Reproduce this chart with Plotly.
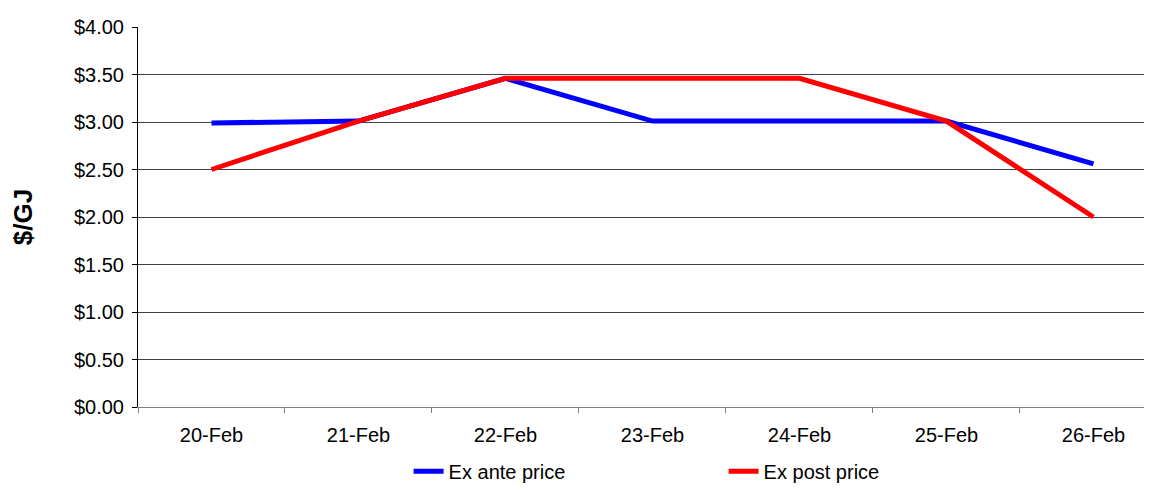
import plotly.graph_objects as go

dates = ["20-Feb", "21-Feb", "22-Feb", "23-Feb", "24-Feb", "25-Feb", "26-Feb"]
ex_ante = [2.99, 3.01, 3.46, 3.01, 3.01, 3.01, 2.56]
ex_post = [2.50, 3.01, 3.46, 3.46, 3.46, 3.01, 2.00]
y_ticks = [0, 0.5, 1.0, 1.5, 2.0, 2.5, 3.0, 3.5, 4.0]
y_tick_labels = ["$%.2f" % v for v in y_ticks]

FONT = "Liberation Sans, Arial, sans-serif"

fig = go.Figure()
fig.add_trace(go.Scatter(x=dates, y=ex_ante, mode="lines", name="Ex ante price",
                         line=dict(color="#0000FF", width=5)))
fig.add_trace(go.Scatter(x=dates, y=ex_post, mode="lines", name="Ex post price",
                         line=dict(color="#FF0000", width=5)))

fig.update_layout(
    width=1136, height=477,
    margin=dict(l=130, r=0, t=19, b=78, autoexpand=False),
    paper_bgcolor="white", plot_bgcolor="white",
    font=dict(family=FONT, size=20, color="black"),
    showlegend=True,
    legend=dict(orientation="h", x=0.269, xanchor="left", y=-0.118, yanchor="top",
                entrywidth=270, entrywidthmode="pixels",
                font=dict(family=FONT, size=20, color="black"),
                bgcolor="rgba(0,0,0,0)"),
)
fig.update_xaxes(
    type="category", range=[-0.5, 6.344],
    showline=True, linecolor="#808080", linewidth=1,
    ticks="outside", tickson="boundaries", ticklen=5, tickcolor="#808080",
    ticklabelstandoff=10,
    showgrid=False, zeroline=False,
    tickfont=dict(family=FONT, size=20, color="black"),
)
fig.update_yaxes(
    range=[0, 4], tickvals=y_ticks, ticktext=y_tick_labels,
    showline=True, linecolor="black", linewidth=1,
    ticks="outside", ticklen=5, tickcolor="black",
    ticklabelstandoff=4,
    showgrid=True, gridcolor="#404040", gridwidth=1, zeroline=False,
    tickfont=dict(family=FONT, size=20, color="black"),
    title=dict(text="<b>$/GJ</b>", standoff=36, font=dict(family=FONT, size=26, color="black")),
)

fig.write_html("out.html")
